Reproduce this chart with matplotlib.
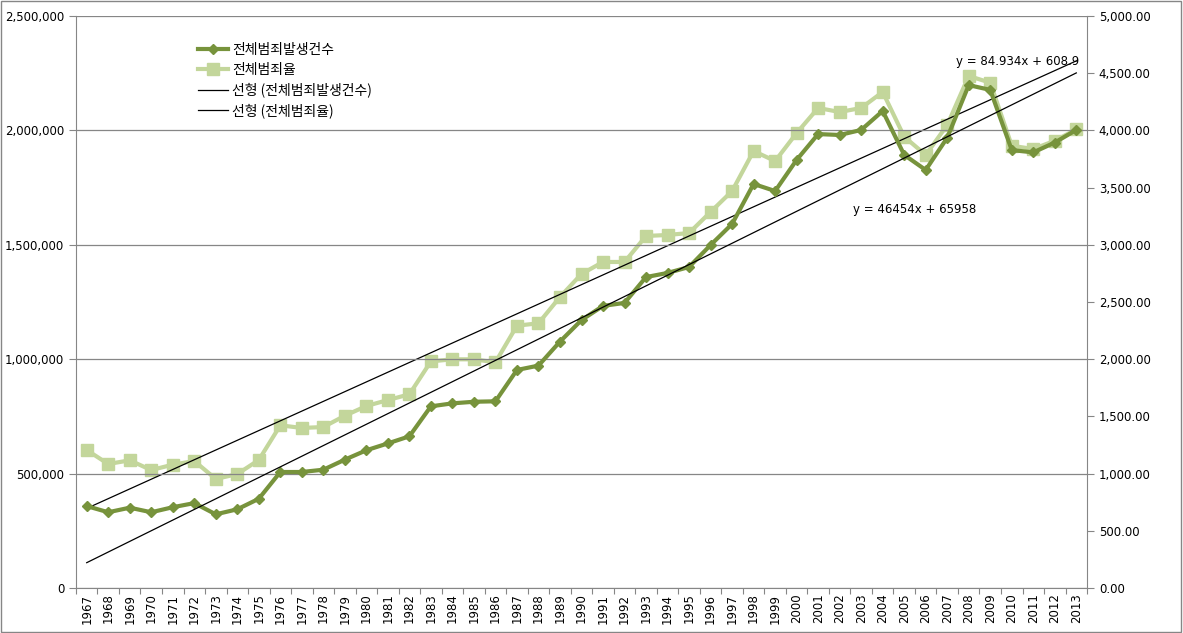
import numpy as np
import matplotlib
matplotlib.use('Agg')
import matplotlib.pyplot as plt
from matplotlib.patches import Rectangle
from matplotlib.ticker import FuncFormatter, MultipleLocator

plt.rcParams['font.family'] = ['Noto Sans CJK KR', 'DejaVu Sans']

years = list(range(1967, 2014))
counts = [358000, 331000, 351000, 331000, 353000, 371000, 322000, 344000, 390000, 507000,
          507000, 517000, 561000, 602000, 632000, 663000, 794000, 807000, 814000, 816000,
          953000, 972000, 1077000, 1171000, 1233000, 1246000, 1359000, 1377000, 1403000, 1499000,
          1591000, 1766000, 1735000, 1871000, 1984000, 1980000, 2002000, 2085000, 1893000, 1827000,
          1968000, 2198000, 2177000, 1914000, 1904000, 1947000, 2002000]
rates = [1206, 1084, 1116, 1031, 1078, 1110, 953, 996, 1119, 1422,
         1399, 1407, 1506, 1591, 1643, 1693, 1981, 1999, 1999, 1973,
         2293, 2314, 2544, 2745, 2850, 2850, 3077, 3086, 3103, 3287,
         3470, 3820, 3732, 3977, 4196, 4161, 4196, 4336, 3945, 3785,
         4047, 4476, 4417, 3866, 3837, 3910, 4009]
name_cnt = '전체범죄발생건수'
name_rate = '전체범죄율'
eq_cnt = 'y = 46454x + 65958'
eq_rate = 'y = 84.934x + 608.9'

dark = '#77933C'
light = '#C3D69B'
gray = '#868686'

x = np.arange(len(years))
xn = x + 1  # Excel trendline x
p_cnt = np.polyfit(xn, counts, 1)
p_rate = np.polyfit(xn, rates, 1)

fig = plt.figure(figsize=(11.83, 6.33), dpi=100)
ax = fig.add_axes([0.0642, 0.0711, 0.8547, 0.9036])
ax2 = ax.twinx()

ax.set_zorder(ax2.get_zorder() + 1)
ax.patch.set_visible(False)

l2, = ax2.plot(x, rates, color=light, lw=3, marker='s', ms=8, label=name_rate, zorder=3)
t2, = ax2.plot(x, np.polyval(p_rate, xn), color='black', lw=0.9, label='선형 (' + name_rate + ')', zorder=4)
l1, = ax.plot(x, counts, color=dark, lw=3, marker='D', ms=5, label=name_cnt, zorder=3)
t1, = ax.plot(x, np.polyval(p_cnt, xn), color='black', lw=0.9, label='선형 (' + name_cnt + ')', zorder=4)

ax.set_xlim(-0.5, len(years) - 0.5)
ax.set_ylim(0, 2500000)
ax2.set_ylim(0, 5000)
ax.yaxis.set_major_locator(MultipleLocator(500000))
ax2.yaxis.set_major_locator(MultipleLocator(500))
ax.yaxis.set_major_formatter(FuncFormatter(lambda v, p: f'{v:,.0f}'))
ax2.yaxis.set_major_formatter(FuncFormatter(lambda v, p: f'{v:,.2f}'))
ax.grid(axis='y', color=gray, lw=0.9)
ax.set_axisbelow(True)

ax.set_xticks(np.arange(len(years) + 1) - 0.5)
ax.set_xticklabels([])
ax.set_xticks(x, minor=True)
ax.set_xticklabels([str(y) for y in years], minor=True, rotation=90, fontsize=8.5,
                   family='DejaVu Sans')
ax.tick_params(axis='x', which='minor', length=0, pad=4)
ax.tick_params(axis='x', which='major', length=4, color=gray)
ax.tick_params(axis='y', length=5, color=gray, labelsize=8.5)
ax2.tick_params(axis='y', length=5, color=gray, labelsize=8.5)
for t in ax.get_yticklabels() + ax2.get_yticklabels():
    t.set_family('DejaVu Sans')

for a in (ax, ax2):
    for s in a.spines.values():
        s.set_visible(False)
ax.spines['left'].set_visible(True)
ax.spines['left'].set_color(gray)
ax.spines['bottom'].set_visible(True)
ax.spines['bottom'].set_color(gray)
ax2.spines['right'].set_visible(True)
ax2.spines['right'].set_color(gray)

ax2.text(1018, 633 - 62, eq_rate, transform=None, fontsize=8.5, ha='center', va='center',
         family='DejaVu Sans')
ax.text(915, 633 - 210, eq_cnt, transform=None, fontsize=8.5, ha='center', va='center',
        family='DejaVu Sans')

leg = ax.legend(handles=[l1, l2, t1, t2], loc='upper left', bbox_to_anchor=(0.108, 0.975),
                frameon=False, fontsize=10, handlelength=2.2, labelspacing=0.42,
                handletextpad=0.3)

fig.patches.append(Rectangle((0.001, 0.002), 0.997, 0.996, transform=fig.transFigure,
                             fill=False, edgecolor=gray, lw=1))

fig.savefig('out.png', dpi=100)
